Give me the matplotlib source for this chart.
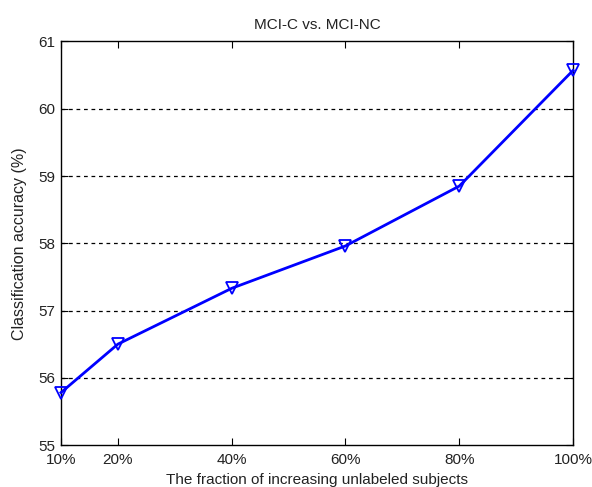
import numpy as np
import matplotlib
matplotlib.use('Agg')
import matplotlib.pyplot as plt

plt.rcParams['font.family'] = ['Liberation Sans', 'DejaVu Sans']

# fraction of unlabeled subjects (%) and accuracy (%)
fractions = [10, 20, 40, 60, 80, 100]
accuracy = [55.78, 56.5, 57.33, 57.96, 58.85, 60.57]
xtick_labels = ['10%', '20%', '40%', '60%', '80%', '100%']
yticks = [55, 56, 57, 58, 59, 60, 61]

fig = plt.figure(figsize=(5.92, 4.87), dpi=100)
ax = fig.add_axes([0.103, 0.0862, 0.865, 0.8286])

ax.plot(fractions, accuracy, color='#0000ff', linewidth=2, marker='v',
        markersize=8.5, markerfacecolor='none', markeredgecolor='#0000ff',
        markeredgewidth=1.3, clip_on=False, zorder=3)

ax.set_xlim(10, 100)
ax.set_ylim(55, 61)
ax.set_xticks(fractions)
ax.set_xticklabels(xtick_labels)
ax.set_yticks(yticks)
for y in yticks[1:-1]:
    ax.axhline(y, color='black', linestyle=(0, (3, 3)), linewidth=0.9, zorder=1)

ax.tick_params(direction='in', top=True, right=True, length=5, labelsize=11,
               labelcolor='#222222')
ax.tick_params(axis='x', pad=6)
ax.tick_params(axis='y', pad=4)
for s in ax.spines.values():
    s.set_linewidth(1)

ax.set_title('MCI-C vs. MCI-NC', fontsize=11, pad=9, color='#222222')
ax.set_xlabel('The fraction of increasing unlabeled subjects', fontsize=11,
              labelpad=4, color='#222222')
ax.set_ylabel('Classification accuracy (%)', fontsize=11.5, color='#222222')
ax.yaxis.set_label_coords(-0.066, 0.5)

fig.savefig('out.png', dpi=100)
